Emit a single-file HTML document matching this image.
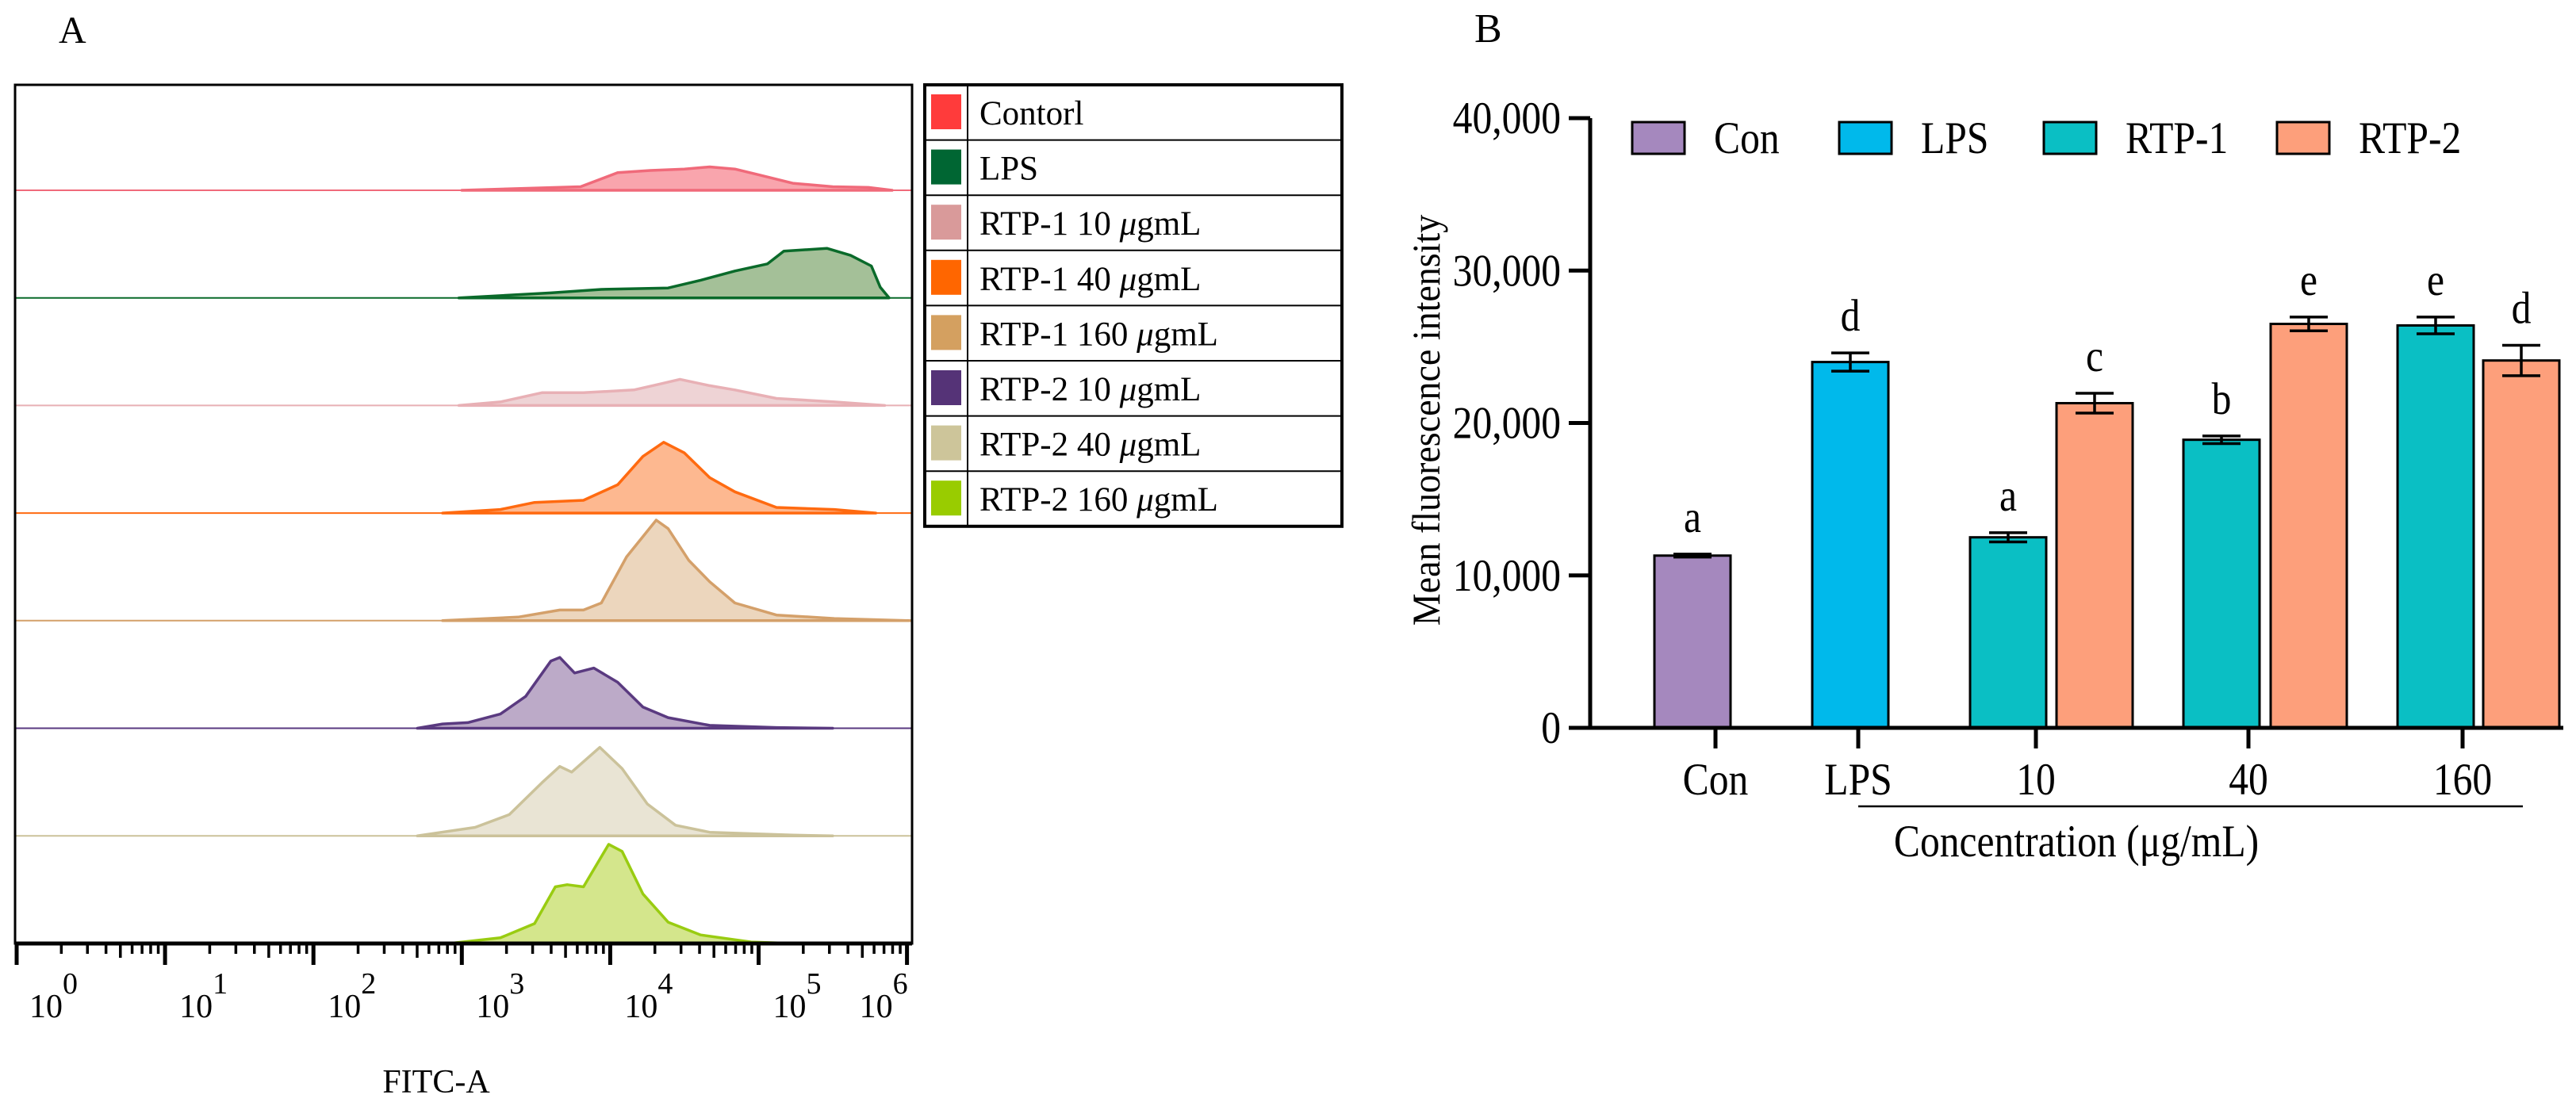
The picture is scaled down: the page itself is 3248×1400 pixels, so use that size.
<!DOCTYPE html>
<html><head><meta charset="utf-8"><style>
html,body{margin:0;padding:0;background:#fff;}
svg{display:block;font-family:"Liberation Serif",serif;}
</style></head><body>
<svg id="fig" width="3248" height="1400" viewBox="0 0 3248 1400" xmlns="http://www.w3.org/2000/svg">
<text x="74" y="54" font-size="48">A</text>
<text x="1859" y="53" font-size="52">B</text>
<g id="histo"></g>
<g id="legA"></g>
<g id="bars"></g>
</svg>
<script>
// ---------- Panel A data (log10 fluorescence, relative count) ----------
const seriesNames = ["Contorl","LPS","RTP-1 10 μgmL","RTP-1 40 μgmL","RTP-1 160 μgmL","RTP-2 10 μgmL","RTP-2 40 μgmL","RTP-2 160 μgmL"];
const ctrlLog = [3.0,3.8,4.05,4.27,4.5,4.67,4.84,5.0,5.23,5.5,5.74,5.9];
const ctrlCnt = [0,5,25,28,30,33,30,22,10,5,4,0];
const lpsLog = [2.98,3.6,3.94,4.39,4.61,4.84,5.06,5.17,5.46,5.62,5.76,5.82,5.88];
const lpsCnt = [0,7,12,14,25,38,48,66,70,60,45,15,0];
const r1a10Log = [2.98,3.26,3.54,3.82,4.16,4.33,4.47,4.67,4.84,5.12,5.51,5.85];
const r1a10Cnt = [0,5,18,18,22,30,37,28,22,10,5,0];
const r1a40Log = [2.87,3.26,3.49,3.82,4.05,4.22,4.36,4.5,4.67,4.84,5.12,5.51,5.79];
const r1a40Cnt = [0,5,15,18,40,80,100,85,50,30,8,5,0];
const r1a160Log = [2.87,3.38,3.66,3.82,3.94,4.11,4.31,4.39,4.53,4.67,4.84,5.12,5.51,6.02];
const r1a160Cnt = [0,5,15,15,25,90,142,130,85,55,25,8,3,0];
const r2a10Log = [2.7,2.87,3.04,3.26,3.43,3.6,3.66,3.76,3.89,4.05,4.22,4.39,4.67,5.12,5.5];
const r2a10Cnt = [0,6,8,20,45,95,100,78,85,65,30,15,4,1,0];
const r2a40Log = [2.7,3.09,3.32,3.54,3.66,3.74,3.93,4.08,4.25,4.44,4.67,5.23,5.5];
const r2a40Cnt = [0,12,30,75,98,90,125,95,45,15,5,1,0];
const r2a160Log = [2.92,3.26,3.49,3.63,3.71,3.82,3.99,4.08,4.22,4.39,4.61,4.95,5.23];
const r2a160Cnt = [0,8,28,80,83,80,140,130,70,30,12,2,0];
const decadeLabels = ["0","1","2","3","4","5","6"];
const lineColors = ["#f06a7a","#0a6a2a","#e8b0b5","#ff6a10","#d4a06a","#5a3a80","#cbc29a","#99cc11"];
const fillColors = ["#f9a5ad","#a4c098","#eed3d5","#fdb890","#ecd6bd","#bcaac8","#e9e4d4","#d4e68c"];
const swatchColors = ["#ff3b3b","#006633","#d99a9a","#ff6600","#d4a060","#553377","#cdc59a","#99cc00"];

// ---------- Panel B data ----------
const barCategories = ["Con","LPS","10","40","160"];
const legendNames = ["Con","LPS","RTP-1","RTP-2"];
const barValues = [11300,24000,12500,21300,18900,26500,26400,24100];
const barErrors = [100,600,300,650,250,450,550,1000];
const barLetters = ["a","d","a","c","b","e","e","d"];
const barSeries = [0,1,2,3,2,3,2,3];
const yTicks = [0,10000,20000,30000,40000];
const yTickLabels = ["0","10,000","20,000","30,000","40,000"];
const barColors = ["#a588be","#00b9eb","#0abfc4","#fd9f7b"];

const NS="http://www.w3.org/2000/svg";
function mk(tag,attrs,parent){const e=document.createElementNS(NS,tag);for(const k in attrs)e.setAttribute(k,attrs[k]);parent.appendChild(e);return e;}

// ---- Panel A ----
const H=document.getElementById('histo');
const AX0=19,AX1=1150,AY0=107,AY1=1190;
const xLog=v=>21+v*187.1;
const rowBase=i=>240+i*135.7;
const cntScale=0.893;
const logs=[ctrlLog,lpsLog,r1a10Log,r1a40Log,r1a160Log,r2a10Log,r2a40Log,r2a160Log];
const cnts=[ctrlCnt,lpsCnt,r1a10Cnt,r1a40Cnt,r1a160Cnt,r2a10Cnt,r2a40Cnt,r2a160Cnt];
for(let i=0;i<8;i++){
  const b=rowBase(i);
  const bl=mk('line',{x1:AX0,x2:AX1,y1:b,y2:b,stroke:lineColors[i],'stroke-width':2},H);
  
  
  let d='M'+xLog(logs[i][0])+','+b;
  for(let j=0;j<logs[i].length;j++) d+=' L'+xLog(logs[i][j]).toFixed(1)+','+(b-cnts[i][j]*cntScale).toFixed(1);
  d+=' Z';
  const p=mk('path',{d:d,fill:fillColors[i],stroke:lineColors[i],'stroke-width':3.5,'stroke-linejoin':'round'},H);
  
  
}
const fr=mk('rect',{x:AX0,y:AY0,width:AX1-AX0,height:AY1-AY0,fill:'none',stroke:'#000','stroke-width':3},H);


const ax=mk('line',{x1:AX0,x2:AX1,y1:AY1,y2:AY1,stroke:'#000','stroke-width':5},H);


for(let d=0;d<=6;d++){
  const t=mk('line',{x1:xLog(d),x2:xLog(d),y1:AY1,y2:AY1+27,stroke:'#000','stroke-width':5},H);
  
  
  const tx=mk('text',{x:xLog(d)+(d==0?16:d==6?-60:18),y:1283,'font-size':42},H);
  
  
  tx.textContent='10';
  const sp=mk('tspan',{dy:-30,'font-size':38},tx);
  sp.textContent=decadeLabels[d];
  if(d<6) for(let k=2;k<=9;k++){
    const x=xLog(d+Math.log10(k));
    const m=mk('line',{x1:x,x2:x,y1:AY1,y2:AY1+(k==5?18:13),stroke:'#000','stroke-width':3.5},H);
    
    
  }
}
const xt=mk('text',{x:550,y:1378,'font-size':42,'text-anchor':'middle'},H);


xt.textContent='FITC-A';

// legend A
const L=document.getElementById('legA');
const LX0=1166,LX1=1692,LY0=107,LH=69.6;
for(let i=0;i<8;i++){
  const y=LY0+i*LH;
  const sw=mk('rect',{x:1174,y:y+12,width:38,height:44,fill:swatchColors[i]},L);
  
  
  const t=mk('text',{x:1235,y:y+50,'font-size':43},L);
  
  
  const parts=seriesNames[i].split('μ');
  t.textContent=parts[0];
  if(parts.length>1){const it=mk('tspan',{'font-style':'italic'},t);it.textContent='μ';const r=mk('tspan',{},t);r.textContent=parts[1];}
  if(i>0){const hl=mk('line',{x1:LX0,x2:LX1,y1:y,y2:y,stroke:'#000','stroke-width':2},L);}
}
const lv=mk('line',{x1:1220,x2:1220,y1:LY0,y2:LY0+8*LH,stroke:'#000','stroke-width':2},L);


const lf=mk('rect',{x:LX0,y:LY0,width:LX1-LX0,height:8*LH,fill:'none',stroke:'#000','stroke-width':4},L);



// ---- Panel B ----
const B=document.getElementById('bars');
const FS=57,SX=0.87;
function bText(x,y,anchor,str,size){
  const t=mk('text',{x:0,y:0,'font-size':size||FS,'text-anchor':anchor,transform:`translate(${x},${y}) scale(${SX},1)`},B);
  t.textContent=str;
  return t;
}
const BY0=918,BY1=149,BX=2005;
const yv=v=>BY0-(v/40000)*(BY0-BY1);
const barX=[2086,2285,2484,2593,2753,2863,3023,3131];
const BW=96;
const catTickX=[2163,2343,2567,2835,3105];
for(let i=0;i<barValues.length;i++){
  const top=yv(barValues[i]);
  const r=mk('rect',{x:barX[i],y:top,width:BW,height:BY0-top,fill:barColors[barSeries[i]],stroke:'#000','stroke-width':3},B);
  
  
  const cx=barX[i]+BW/2,eh=yv(barValues[i]+barErrors[i]),el=yv(barValues[i]-barErrors[i]);
  const e=mk('path',{d:`M${cx},${eh} L${cx},${el} M${cx-24},${eh} L${cx+24},${eh} M${cx-24},${el} L${cx+24},${el}`,stroke:'#000','stroke-width':3.5,fill:'none'},B);
  
  
  const lt=bText(cx,eh-28,'middle',barLetters[i]);
  
  
}
const yax=mk('line',{x1:BX,x2:BX,y1:BY1,y2:BY0+2,stroke:'#000','stroke-width':5},B);


const xax=mk('line',{x1:1978,x2:3232,y1:BY0,y2:BY0,stroke:'#000','stroke-width':5},B);


for(let i=0;i<yTicks.length;i++){
  const y=yv(yTicks[i]);
  const t=mk('line',{x1:1978,x2:BX,y1:y,y2:y,stroke:'#000','stroke-width':5},B);
  
  
  const l=bText(1968,y+19,'end',yTickLabels[i]);
  
  
}
for(let i=0;i<barCategories.length;i++){
  const x=catTickX[i];
  const t=mk('line',{x1:x,x2:x,y1:BY0,y2:944,stroke:'#000','stroke-width':5},B);
  
  
  const l=bText(x,1002,'middle',barCategories[i]);
  
  
}
const ul=mk('line',{x1:2343,x2:3181,y1:1017,y2:1017,stroke:'#000','stroke-width':2.5},B);


const ct=bText(2618,1080,'middle','Concentration (μg/mL)');


const yt=mk('text',{x:0,y:0,'font-size':50,'text-anchor':'middle',transform:'translate(1815,530) rotate(-90) scale(0.92,1)'},B);


yt.textContent='Mean fluorescence intensity';
const legSwX=[2058,2319,2577,2871];
for(let i=0;i<legendNames.length;i++){
  const s=mk('rect',{x:legSwX[i],y:154,width:66,height:40,fill:barColors[i],stroke:'#000','stroke-width':3},B);
  
  
  const t=bText(legSwX[i]+103,193,'start',legendNames[i]);
  
  
}
</script>
</body></html>
